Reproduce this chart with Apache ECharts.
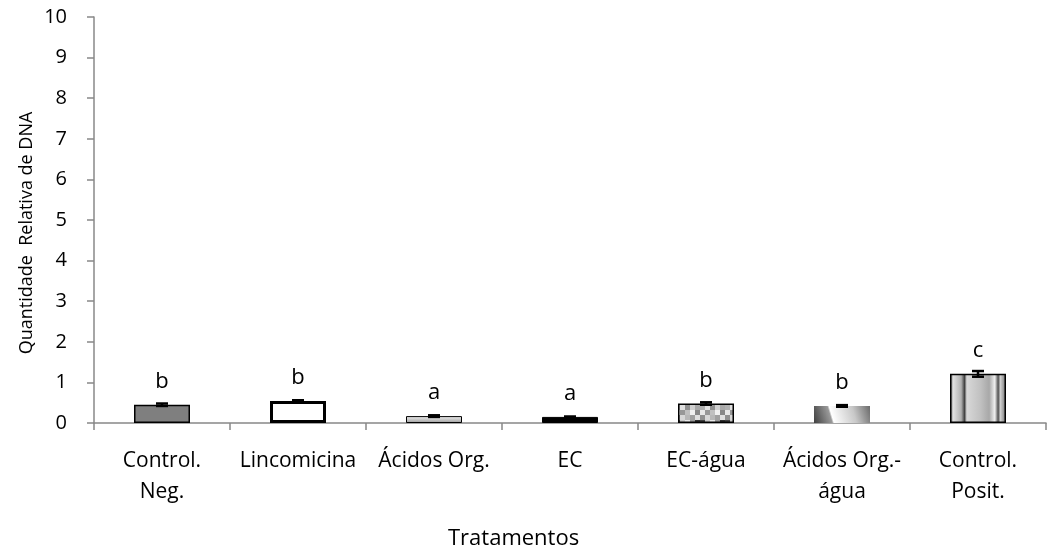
<!DOCTYPE html>
<html>
<head>
<meta charset="utf-8">
<script src="https://cdn.jsdelivr.net/npm/echarts@6/dist/echarts.min.js"></script>
<style>
  html, body { margin: 0; padding: 0; background: #fff; overflow: hidden; }
  #chart { width: 1049px; height: 551px; }
</style>
</head>
<body>
<div id="chart"></div>
<script>
// Treatments and measured relative DNA quantities
const categories = ['Control.\nNeg.', 'Lincomicina', 'Ácidos Org.', 'EC', 'EC-água', 'Ácidos Org.-\nágua', 'Control.\nPosit.'];
const values = [0.45, 0.54, 0.17, 0.15, 0.48, 0.42, 1.21];
const errors = [0.03, 0.02, 0.02, 0.01, 0.03, 0.02, 0.07];
const letters = ['b', 'b', 'a', 'a', 'b', 'b', 'c'];
const yTicks = [0, 1, 2, 3, 4, 5, 6, 7, 8, 9, 10];
const xTitle = 'Tratamentos';
const yTitle = 'Quantidade  Relativa de DNA';

const FONT = '"Open Sans", "Liberation Sans", sans-serif';

// checkered grey texture for the EC-água bar
function checkerPattern() {
  const c = document.createElement('canvas');
  const s = 5;
  const shades = [
    ['#d8d8d8', '#a0a0a0', '#e8e8e8', '#8a8a8a', '#c8c8c8'],
    ['#b0b0b0', '#e0e0e0', '#909090', '#d0d0d0', '#a8a8a8'],
    ['#e8e8e8', '#989898', '#c0c0c0', '#f0f0f0', '#888888'],
    ['#909090', '#d8d8d8', '#b8b8b8', '#a0a0a0', '#e0e0e0'],
    ['#404040', '#c8c8c8', '#e8e8e8', '#989898', '#303030']
  ];
  c.width = s * 5; c.height = s * 5;
  const ctx = c.getContext('2d');
  for (let r = 0; r < 5; r++) for (let q = 0; q < 5; q++) {
    ctx.fillStyle = shades[r][q];
    ctx.fillRect(q * s, r * s, s, s);
  }
  return { image: c, repeat: 'repeat' };
}

const barStyles = [
  { color: '#7f7f7f', borderColor: '#000', borderWidth: 1.5 },
  { color: '#ffffff', borderColor: '#000', borderWidth: 3 },
  { color: { type: 'linear', x: 0, y: 0, x2: 0, y2: 1, colorStops: [
      { offset: 0, color: '#f0f0f0' }, { offset: 0.5, color: '#c8c8c8' }, { offset: 1, color: '#9a9a9a' }] },
    borderColor: '#000', borderWidth: 1 },
  { color: '#000000', borderColor: '#000', borderWidth: 1 },
  { color: checkerPattern(), borderColor: '#000', borderWidth: 1.5 },
  { color: { type: 'linear', x: 0, y: 1, x2: 1, y2: 0, colorStops: [
      { offset: 0, color: '#404040' }, { offset: 0.3, color: '#9a9a9a' }, { offset: 0.33, color: '#ffffff' },
      { offset: 0.7, color: '#c8c8c8' }, { offset: 1, color: '#6a6a6a' }] },
    borderWidth: 0 },
  { color: { type: 'linear', x: 0, y: 0, x2: 1, y2: 0, colorStops: [
      { offset: 0, color: '#6a6a6a' }, { offset: 0.06, color: '#e0e0e0' }, { offset: 0.2, color: '#b0b0b0' },
      { offset: 0.26, color: '#404040' }, { offset: 0.3, color: '#d8d8d8' }, { offset: 0.55, color: '#c0c0c0' },
      { offset: 0.7, color: '#a8a8a8' }, { offset: 0.8, color: '#f0f0f0' }, { offset: 0.86, color: '#505050' },
      { offset: 0.9, color: '#d0d0d0' }, { offset: 1, color: '#707070' }] },
    borderColor: '#000', borderWidth: 1.5 }
];

const chart = echarts.init(document.getElementById('chart'), null, { renderer: 'canvas', width: 1049, height: 551 });

chart.setOption({
  animation: false,
  backgroundColor: '#ffffff',
  textStyle: { fontFamily: FONT },
  grid: { left: 94, right: 3, top: 17, bottom: 128, containLabel: false, outerBoundsMode: 'none' },
  graphic: [
    {
      type: 'text',
      left: 448, top: 528,
      style: { text: xTitle, fontSize: 22, fontFamily: FONT, fill: '#000' }
    },
    {
      type: 'text',
      x: 27, y: 233,
      rotation: Math.PI / 2,
      style: { text: yTitle, fontSize: 18, fontFamily: FONT, fill: '#000', align: 'center', verticalAlign: 'middle' }
    }
  ],
  xAxis: {
    type: 'category',
    data: categories,
    axisLine: { lineStyle: { color: '#888', width: 1.5 } },
    axisTick: { show: true, length: 7, lineStyle: { color: '#888', width: 1.5 } },
    axisLabel: { fontSize: 21, color: '#000', margin: 23, lineHeight: 31, interval: 0, fontFamily: FONT }
  },
  yAxis: {
    type: 'value',
    min: 0, max: 10, interval: 1,
    splitLine: { show: false },
    axisLine: { show: true, lineStyle: { color: '#888', width: 1.5 } },
    axisTick: { show: true, length: 7, lineStyle: { color: '#888', width: 1.5 } },
    axisLabel: {
      fontSize: 20, color: '#000', margin: 27, fontFamily: FONT,
      formatter: v => (yTicks.indexOf(v) >= 0 ? String(v) : '')
    }
  },
  series: [
    {
      type: 'bar',
      barWidth: 56,
      data: values.map((v, i) => ({ value: v, itemStyle: barStyles[i] })),
      label: {
        show: true,
        position: 'top',
        distance: 12,
        fontSize: 22,
        color: '#000',
        fontFamily: FONT,
        formatter: p => letters[p.dataIndex]
      }
    },
    {
      type: 'custom',
      z: 5,
      data: values.map((v, i) => [i, v, errors[i]]),
      renderItem: (params, api) => {
        const x = api.value(0), v = api.value(1), e = api.value(2);
        const top = api.coord([x, v + e]);
        const bot = api.coord([x, v - e]);
        const hw = 6;
        const style = { stroke: '#000', lineWidth: 2.5 };
        return {
          type: 'group',
          children: [
            { type: 'line', shape: { x1: top[0], y1: top[1], x2: bot[0], y2: bot[1] }, style },
            { type: 'line', shape: { x1: top[0] - hw, y1: top[1], x2: top[0] + hw, y2: top[1] }, style },
            { type: 'line', shape: { x1: bot[0] - hw, y1: bot[1], x2: bot[0] + hw, y2: bot[1] }, style }
          ]
        };
      }
    }
  ]
});
</script>
</body>
</html>
